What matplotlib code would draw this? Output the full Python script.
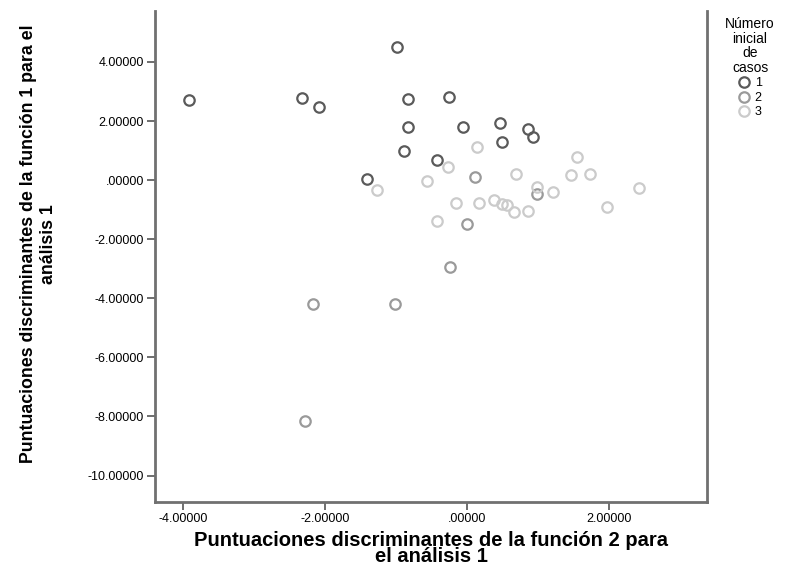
import matplotlib
matplotlib.use("Agg")
import matplotlib.pyplot as plt
from matplotlib.ticker import FuncFormatter

plt.rcParams['font.family'] = ['Liberation Sans', 'DejaVu Sans']

# discriminant scores per group (function 2 on x, function 1 on y)
g1_x = [-3.92, -2.32, -2.08, -0.99, -0.83, -0.83, -0.89, -1.41, -0.25, -0.06, 0.46, 0.49, 0.85, 0.93, -0.42]
g1_y = [2.71, 2.78, 2.47, 4.51, 2.75, 1.80, 0.98, 0.03, 2.81, 1.80, 1.93, 1.29, 1.73, 1.46, 0.68]

g2_x = [-2.17, -1.01, -2.28, 0.11, 0.99, 0.00, -0.24]
g2_y = [-4.20, -4.20, -8.14, 0.10, -0.47, -1.49, -2.95]

g3_x = [-1.27, -0.56, -0.27, 0.14, 0.69, 0.99, 1.21, 1.55, 1.46, 1.73, 2.42, 1.97,
        -0.15, 0.17, 0.38, 0.49, 0.56, 0.66, 0.86, -0.42]
g3_y = [-0.34, -0.03, 0.44, 1.12, 0.20, -0.24, -0.41, 0.78, 0.17, 0.20, -0.27, -0.92,
        -0.78, -0.78, -0.68, -0.81, -0.85, -1.08, -1.05, -1.39]

groups = ['1', '2', '3']
colors = ['#5a5a5a', '#9a9a9a', '#cbcbcb']

fig = plt.figure(figsize=(7.92, 5.70), dpi=100)
ax = fig.add_axes([0.196, 0.119, 0.697, 0.862])

for xs, ys, lab, c in zip([g1_x, g2_x, g3_x], [g1_y, g2_y, g3_y], groups, colors):
    ax.plot(xs, ys, linestyle='none', marker='o', markersize=7.5,
            markerfacecolor='none', markeredgecolor=c, markeredgewidth=1.6, label=lab)

ax.set_xlim(-4.39, 3.38)
ax.set_ylim(-10.9, 5.73)
ax.set_xticks([-4, -2, 0, 2])
ax.set_yticks([-10, -8, -6, -4, -2, 0, 2, 4])


def spss_fmt(v, pos):
    s = f"{v:.5f}"
    if s.startswith("0."):
        s = s[1:]
    elif s.startswith("-0."):
        s = "-" + s[2:]
    return s


ax.xaxis.set_major_formatter(FuncFormatter(spss_fmt))
ax.yaxis.set_major_formatter(FuncFormatter(spss_fmt))
ax.tick_params(direction='out', length=6, width=1.2, color='#555555', labelsize=9, pad=2)

for sp in ax.spines.values():
    sp.set_color('#707070')
    sp.set_linewidth(2)
ax.spines['top'].set_visible(False)

ax.set_xlabel("Puntuaciones discriminantes de la función 2 para\nel análisis 1",
              fontsize=14.5, fontweight='bold', linespacing=0.8, labelpad=4)
ax.set_ylabel("Puntuaciones discriminantes de la función 1 para el\nanálisis 1",
              fontsize=12.8, fontweight='bold', linespacing=1.25, labelpad=22)
ax.yaxis.label.set_y(0.525)

leg = fig.legend(loc='upper center', bbox_to_anchor=(0.947, 0.985),
                 title="Número\ninicial\nde\ncasos", frameon=False, fontsize=9,
                 title_fontsize=10, handlelength=0.9, handletextpad=0.4,
                 labelspacing=0.2, borderpad=0.2)
leg.get_title().set_multialignment('center')
leg.get_title().set_linespacing(1.05)

fig.savefig("out.png", dpi=100)
